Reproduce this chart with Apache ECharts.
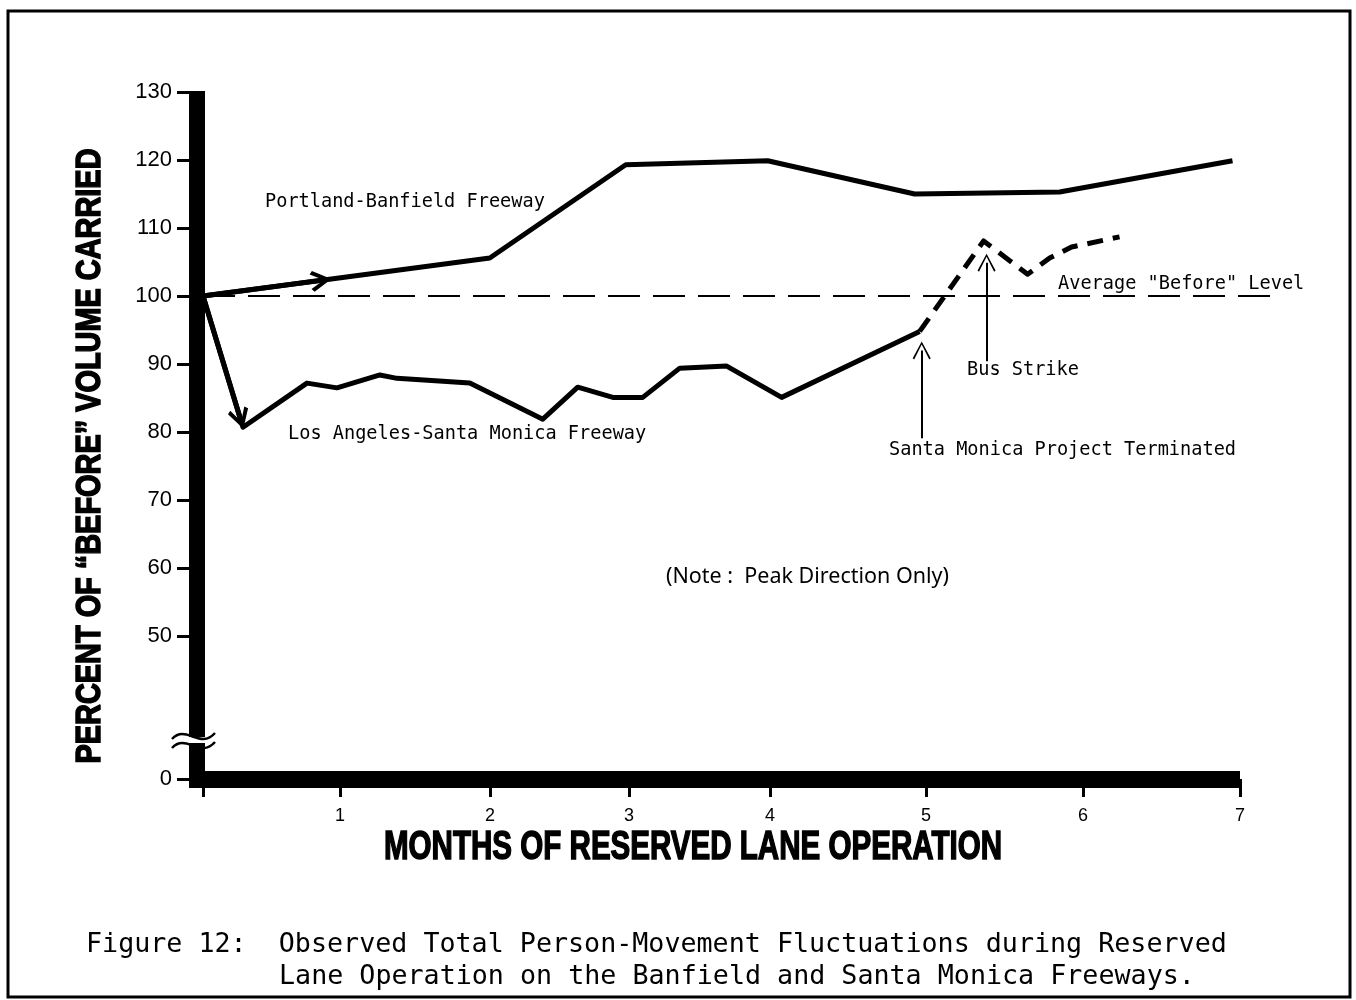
<!DOCTYPE html>
<html>
<head>
<meta charset="utf-8">
<title>Figure 12</title>
<script src="https://cdn.jsdelivr.net/npm/echarts@6/dist/echarts.min.js"></script>
<style>
  html, body { margin: 0; padding: 0; background: #fff; }
  #chart { width: 1356px; height: 1000px; }
</style>
</head>
<body>
<div id="chart"></div>
<script>
// x values sit on a linear scale along the axis (0..7); the printed month ticks are unevenly spaced
const monthTickPos = [0, 0.925, 1.937, 2.876, 3.827, 4.88, 5.94, 7];
const monthTickLabels = ["", "1", "2", "3", "4", "5", "6", "7"];

const portlandX = [0, 1.937, 2.855, 3.814, 4.806, 5.785, 6.953];
const portlandY = [100, 105.6, 119.3, 119.9, 115.0, 115.3, 119.9];

const laX = [0, 0.27, 0.702, 0.905, 1.195, 1.31, 1.802, 2.295, 2.531, 2.768, 2.97, 3.22, 3.537, 3.908, 4.84];
const laY = [100, 80.7, 87.2, 86.5, 88.4, 87.9, 87.2, 81.9, 86.6, 85.1, 85.1, 89.4, 89.7, 85.1, 94.8];

// after the Santa Monica project ended (dashed)
const laAfterX = [4.84, 5.272, 5.569, 5.718, 5.866, 6.19];
const laAfterY = [94.8, 108.1, 103.2, 105.6, 107.2, 108.7];

const beforeLevel = 100;
const beforeLineEnd = 7.24; // the dashed level line runs past the end of the month axis

const pairs = (xs, ys) => xs.map((x, i) => [x, ys[i]]);

const SANS = '"Liberation Sans", Arial, sans-serif';
const MONO = '"DejaVu Sans Mono", monospace';

// open arrowheads, pointing up (markLine turns them along the line)
const chevronThick = "path://M10,0 L20,17 L17,19.5 L10,7 L3,19.5 L0,17 Z";
const chevronThin = "path://M10,0 L20,18 L18.4,19.2 L10,3.2 L1.6,19.2 L0,18 Z";

const measureCtx = document.createElement("canvas").getContext("2d");
function fitScale(text, font, width) {
  measureCtx.font = font;
  return width / measureCtx.measureText(text).width;
}

function tickLabel(v) {
  let best = 0;
  monthTickPos.forEach((p, i) => {
    if (Math.abs(p - v) < Math.abs(monthTickPos[best] - v)) best = i;
  });
  return monthTickLabels[best];
}

const txt = (x, y, text, font, extra, el) => Object.assign({
  type: "text",
  x: x,
  y: y,
  silent: true,
  z: 100,
  style: Object.assign({
    text: text,
    font: font,
    fill: "#000",
    textAlign: "left",
    textVerticalAlign: "middle",
    align: "left",
    verticalAlign: "middle",
  }, extra || {}),
}, el || {});

const yTitle = "PERCENT OF \u201cBEFORE\u201d VOLUME CARRIED";
const yTitleFont = "bold 35px " + SANS;
const xTitle = "MONTHS OF RESERVED LANE OPERATION";
const xTitleFont = "bold 40px " + SANS;
const noteText = "(Note :  Peak Direction Only)";
const noteFont = '21px "Noto Sans", sans-serif';

const chart = echarts.init(document.getElementById("chart"), null, { renderer: "canvas" });

const option = {
  animation: false,
  backgroundColor: "#fff",
  grid: [
    // data grid: starts at the heavy y axis, wide enough for the level line to run past month 7
    { left: 197, right: 81, top: 92, bottom: 221, containLabel: false, outerBoundsMode: "none" },
    // month axis
    { left: 203, right: 116, top: 92, bottom: 221, containLabel: false, outerBoundsMode: "none" },
  ],
  xAxis: [
    // month 0 sits on the inner edge of the heavy y axis
    { gridIndex: 0, type: "value", min: -0.0405, max: beforeLineEnd, show: false },
    {
      gridIndex: 1,
      type: "value",
      min: 0,
      max: 7,
      axisLine: { show: true, onZero: false, lineStyle: { color: "#000", width: 17, cap: "butt" } },
      axisTick: {
        show: true,
        customValues: monthTickPos,
        length: 18,
        lineStyle: { color: "#000", width: 3 },
      },
      axisLabel: {
        customValues: monthTickPos,
        formatter: tickLabel,
        margin: 28,
        color: "#000",
        fontFamily: SANS,
        fontSize: 18,
      },
      splitLine: { show: false },
    },
  ],
  yAxis: [
    {
      gridIndex: 0,
      type: "value",
      min: 0,
      max: 130,
      interval: 10,
      breaks: [{ start: 0, end: 50, gap: "20.8%" }],
      breakArea: { show: false },
      // the heavy bar is drawn below as one piece so it runs through the break
      axisLine: { show: true, onZero: false, lineStyle: { color: "rgba(0,0,0,0)", width: 1 } },
      axisTick: { show: true, length: 20, lineStyle: { color: "#000", width: 3 } },
      axisLabel: {
        margin: 25,
        color: "#000",
        fontFamily: SANS,
        fontSize: 22,
      },
      splitLine: { show: false },
    },
    { gridIndex: 1, type: "value", min: 0, max: 130, show: false },
  ],
  series: [
    {
      name: "Portland-Banfield Freeway",
      type: "line",
      data: pairs(portlandX, portlandY),
      symbol: "none",
      lineStyle: { color: "#000", width: 5, join: "round" },
      markLine: {
        silent: true,
        symbol: ["none", chevronThick],
        symbolSize: 21,
        label: { show: false },
        lineStyle: { color: "#000", width: 5, type: "solid" },
        data: [[{ coord: [0, 100] }, { coord: [0.797, 102.3] }]],
      },
    },
    {
      name: "Los Angeles-Santa Monica Freeway",
      type: "line",
      data: pairs(laX, laY),
      symbol: "none",
      lineStyle: { color: "#000", width: 5, join: "round" },
      markLine: {
        silent: true,
        symbol: ["none", chevronThick],
        symbolSize: 21,
        label: { show: false },
        lineStyle: { color: "#000", width: 5, type: "solid" },
        data: [[{ coord: [0, 100] }, { coord: [0.252, 81.97] }]],
      },
    },
    {
      name: "Los Angeles-Santa Monica Freeway (after)",
      type: "line",
      data: pairs(laAfterX, laAfterY),
      symbol: "none",
      lineStyle: { color: "#000", width: 5, type: [16, 10], join: "round" },
    },
    {
      name: 'Average "Before" Level',
      type: "line",
      data: [[0, beforeLevel], [beforeLineEnd, beforeLevel]],
      symbol: "none",
      lineStyle: { color: "#000", width: 2, type: [32, 13] },
      markLine: {
        silent: true,
        symbol: ["none", chevronThin],
        symbolSize: 18,
        label: { show: false },
        lineStyle: { color: "#000", width: 2, type: "solid" },
        data: [
          [{ coord: [5.292, 90.4] }, { coord: [5.292, 104.9] }],
          [{ coord: [4.854, 79.1] }, { coord: [4.854, 92.0] }],
        ],
      },
    },
  ],
  graphic: [
    // frame
    { type: "rect", silent: true, shape: { x: 8, y: 11, width: 1342, height: 986 },
      style: { fill: "none", stroke: "#000", lineWidth: 3 } },
    // heavy y axis bar, down into the corner where it meets the month axis
    { type: "rect", silent: true, z: 50, shape: { x: 189, y: 91, width: 16, height: 697 }, style: { fill: "#000" } },
    // axis break mark
    { type: "rect", silent: true, z: 60, shape: { x: 186, y: 737, width: 22, height: 6 }, style: { fill: "#fff" } },
    { type: "bezierCurve", silent: true, z: 61,
      shape: { x1: 172, y1: 739, cpx1: 186, cpy1: 724, cpx2: 200, cpy2: 750, x2: 215, y2: 733 },
      style: { stroke: "#000", lineWidth: 2.5, fill: "none" } },
    { type: "bezierCurve", silent: true, z: 61,
      shape: { x1: 172, y1: 748, cpx1: 186, cpy1: 733, cpx2: 200, cpy2: 759, x2: 215, y2: 742 },
      style: { stroke: "#000", lineWidth: 2.5, fill: "none" } },

    // axis titles (condensed heavy lettering)
    txt(90, 456, yTitle, yTitleFont,
      { textAlign: "center", align: "center", stroke: "#000", lineWidth: 1.5 },
      { rotation: Math.PI / 2, scaleX: fitScale(yTitle, yTitleFont, 615) }),
    txt(693, 848, xTitle, xTitleFont,
      { textAlign: "center", align: "center", stroke: "#000", lineWidth: 1.5 },
      { scaleX: fitScale(xTitle, xTitleFont, 618) }),

    // annotations
    txt(265, 202, "Portland-Banfield Freeway", "18.6px " + MONO),
    txt(288, 434, "Los Angeles-Santa Monica Freeway", "18.6px " + MONO),
    txt(1058, 284, 'Average "Before" Level', "18.6px " + MONO),
    txt(967, 370, "Bus Strike", "18.6px " + MONO),
    txt(889, 450, "Santa Monica Project Terminated", "18.6px " + MONO),
    txt(666, 577, noteText, noteFont, null, { scaleX: fitScale(noteText, noteFont, 283) }),

    // caption
    txt(86, 945, "Figure 12:  Observed Total Person-Movement Fluctuations during Reserved", "26.7px " + MONO),
    txt(279, 977, "Lane Operation on the Banfield and Santa Monica Freeways.", "26.7px " + MONO),
  ],
};

chart.setOption(option);
</script>
</body>
</html>
